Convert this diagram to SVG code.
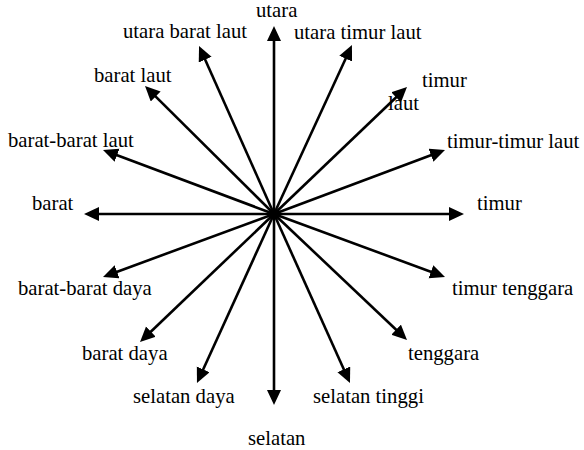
<svg xmlns="http://www.w3.org/2000/svg" width="584" height="450" viewBox="0 0 584 450" font-family="'Liberation Serif', 'Times New Roman', 'DejaVu Serif', serif">
<style>
text{font-family:'Liberation Serif','Times New Roman','DejaVu Serif',serif;font-size:20.7px;fill:#000}
.c line{stroke:#000;stroke-width:2.6;marker-end:url(#ah)}
</style>
<defs>
<marker id="ah" markerUnits="userSpaceOnUse" markerWidth="16" markerHeight="15" refX="7" refY="7" orient="auto">
<path d="M0,0 L15,7 L0,14 z" fill="#000"/>
</marker>
</defs>
<rect width="584" height="450" fill="#fff"/>
<g id="connectors" class="c">
<line x1="274" y1="214" x2="274" y2="34"/>
<line x1="274" y1="214" x2="348.6" y2="52.3"/>
<line x1="274" y1="214" x2="401.2" y2="92.5"/>
<line x1="274" y1="214" x2="437.5" y2="152.8"/>
<line x1="274" y1="214" x2="456" y2="214"/>
<line x1="274" y1="214" x2="437.5" y2="274.2"/>
<line x1="274" y1="214" x2="401.2" y2="334.5"/>
<line x1="274" y1="214" x2="346.7" y2="375.7"/>
<line x1="274" y1="214" x2="274" y2="397"/>
<line x1="274" y1="214" x2="200.3" y2="375.7"/>
<line x1="274" y1="214" x2="145.8" y2="336.5"/>
<line x1="274" y1="214" x2="110.5" y2="274.2"/>
<line x1="274" y1="214" x2="92" y2="214"/>
<line x1="274" y1="214" x2="110.5" y2="152.8"/>
<line x1="274" y1="214" x2="150.7" y2="91.6"/>
<line x1="274" y1="214" x2="202.3" y2="53.3"/>
</g>
<g id="n-utara"><text x="256" y="17">utara</text></g>
<g id="n-utara-barat-laut"><text x="123" y="38">utara barat laut</text></g>
<g id="n-utara-timur-laut"><text x="294" y="39">utara timur laut</text></g>
<g id="n-timur-laut"><text x="422" y="87">timur</text><text x="388" y="110">laut</text></g>
<g id="n-barat-laut"><text x="94" y="82">barat laut</text></g>
<g id="n-barat-barat-laut"><text x="8" y="147">barat-barat laut</text></g>
<g id="n-barat"><text x="32" y="210">barat</text></g>
<g id="n-timur-timur-laut"><text x="447" y="148">timur-timur laut</text></g>
<g id="n-timur"><text x="477" y="210">timur</text></g>
<g id="n-timur-tenggara"><text x="452" y="295">timur tenggara</text></g>
<g id="n-barat-barat-daya"><text x="18" y="295">barat-barat daya</text></g>
<g id="n-barat-daya"><text x="82" y="360">barat daya</text></g>
<g id="n-selatan-daya"><text x="133" y="403">selatan daya</text></g>
<g id="n-selatan"><text x="248" y="445">selatan</text></g>
<g id="n-tenggara"><text x="408" y="360">tenggara</text></g>
<g id="n-selatan-tinggi"><text x="313" y="403">selatan tinggi</text></g>
</svg>
